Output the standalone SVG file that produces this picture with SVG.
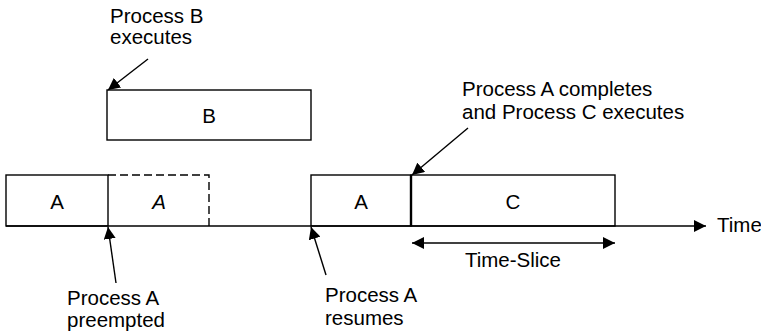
<svg xmlns="http://www.w3.org/2000/svg" width="761" height="335" viewBox="0 0 761 335">
<defs>
<marker id="ah" markerWidth="12" markerHeight="12" refX="10" refY="5" orient="auto" markerUnits="userSpaceOnUse" viewBox="0 0 10 10">
<path d="M0,0 L10,5 L0,10 z" fill="#000"/>
</marker>
<marker id="ahs" markerWidth="12" markerHeight="12" refX="0" refY="5" orient="auto" markerUnits="userSpaceOnUse" viewBox="0 0 10 10">
<path d="M10,0 L0,5 L10,10 z" fill="#000"/>
</marker>
</defs>
<style>
text{font-family:"Liberation Sans",Arial,sans-serif;font-size:20.5px;fill:#000}
.box{fill:#fff;stroke:#000;stroke-width:1.4}
.dash{fill:none;stroke:#000;stroke-width:1.4;stroke-dasharray:8,4}
.ln{stroke:#000;stroke-width:1.4;fill:none}
.mid{text-anchor:middle}
</style>
<rect width="761" height="335" fill="#fff"/>
<g id="boxB"><rect class="box" x="107" y="90" width="204" height="50"/><text class="mid" x="209" y="123">B</text></g>
<g id="boxA1"><rect class="box" x="6" y="175" width="102" height="51"/><text class="mid" x="57" y="209">A</text></g>
<g id="boxAdash"><path class="dash" d="M108,175 H209 V226"/><text class="mid" x="159" y="209" font-style="italic">A</text></g>
<g id="boxA2"><rect class="box" x="311" y="175" width="100" height="51"/><text class="mid" x="361" y="209">A</text></g>
<g id="boxC"><rect class="box" x="411" y="175" width="204" height="51"/><line x1="411" y1="175" x2="411" y2="226" stroke="#000" stroke-width="2.4"/><text class="mid" x="513" y="209">C</text></g>
<g id="connectors">
<line class="ln" x1="6" y1="226" x2="706" y2="226" marker-end="url(#ah)"/>
<line class="ln" x1="412" y1="243" x2="615" y2="243" marker-start="url(#ahs)" marker-end="url(#ah)"/>
<line class="ln" x1="148" y1="59" x2="108" y2="90" marker-end="url(#ah)"/>
<line class="ln" x1="468" y1="128" x2="412" y2="175" marker-end="url(#ah)"/>
<line class="ln" x1="116" y1="283" x2="108" y2="227" marker-end="url(#ah)"/>
<line class="ln" x1="326" y1="275" x2="311" y2="227" marker-end="url(#ah)"/>
</g>
<g id="labels">
<text x="110" y="23">Process B</text>
<text x="110" y="44">executes</text>
<text x="462" y="96">Process A completes</text>
<text x="462" y="119">and Process C executes</text>
<text x="717" y="232">Time</text>
<text class="mid" x="513" y="267">Time-Slice</text>
<text x="67" y="305">Process A</text>
<text x="67" y="327">preempted</text>
<text x="325" y="302">Process A</text>
<text x="325" y="325">resumes</text>
</g>
</svg>
